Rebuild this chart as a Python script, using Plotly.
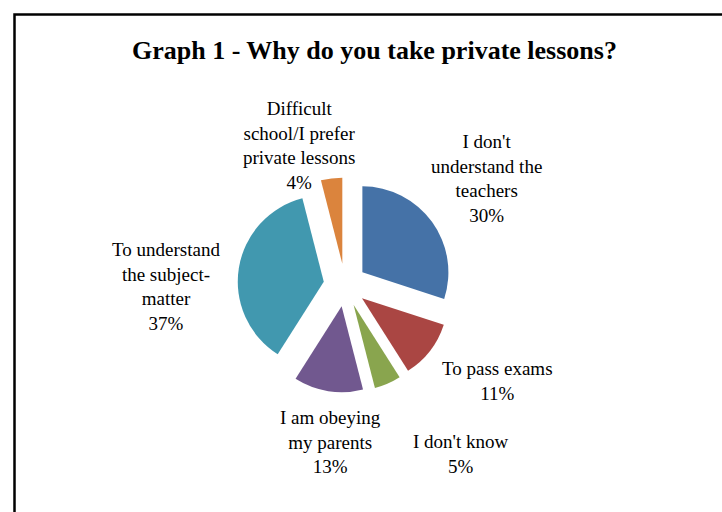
import plotly.graph_objects as go

# Survey answers (percent of respondents)
categories = [
    "I don't understand the teachers",
    "To pass exams",
    "I don't know",
    "I am obeying my parents",
    "To understand the subject-matter",
    "Difficult school/I prefer private lessons",
]
shares = [30, 11, 5, 13, 37, 4]

# Wrapped label text used for the outside labels
label_lines = [
    ["I don't", "understand the", "teachers"],
    ["To pass exams"],
    ["I don't know"],
    ["I am obeying", "my parents"],
    ["To understand", "the subject-", "matter"],
    ["Difficult", "school/I prefer", "private lessons"],
]

colors = ["#4572A7", "#AA4643", "#89A54E", "#71588F", "#4198AF", "#DB843D"]

W, H = 722, 512

# Label block centres in pixels (x, y)
label_pos = [
    (486, 178),
    (497, 381),
    (461, 454),
    (330, 442),
    (166, 286),
    (299, 145),
]

cx, cy, half = 345, 285, 107.5

fig = go.Figure(
    go.Pie(
        labels=categories,
        values=shares,
        sort=False,
        direction="clockwise",
        rotation=0,
        pull=[0.25] * len(shares),
        marker=dict(colors=colors, line=dict(width=0)),
        textinfo="none",
        hoverinfo="label+percent",
        showlegend=False,
        domain=dict(
            x=[(cx - half) / W, (cx + half) / W],
            y=[1 - (cy + half) / H, 1 - (cy - half) / H],
        ),
    )
)

font_serif = "Liberation Serif, Times New Roman, serif"
annotations = []
for lines, val, (px, py) in zip(label_lines, shares, label_pos):
    annotations.append(
        dict(
            x=px / W,
            y=1 - py / H,
            xref="paper",
            yref="paper",
            text="<br>".join(lines + [f"{val}%"]),
            showarrow=False,
            xanchor="center",
            yanchor="middle",
            align="center",
            font=dict(family=font_serif, size=19, color="#000000"),
        )
    )

annotations.append(
    dict(
        x=374 / W,
        y=1 - 50 / H,
        xref="paper",
        yref="paper",
        text="<b>Graph 1 - Why do you take private lessons?</b>",
        showarrow=False,
        xanchor="center",
        yanchor="middle",
        font=dict(family=font_serif, size=26, color="#000000"),
    )
)

fig.update_layout(
    width=W,
    height=H,
    margin=dict(l=0, r=0, t=0, b=0),
    paper_bgcolor="white",
    plot_bgcolor="white",
    annotations=annotations,
    shapes=[
        dict(
            type="rect",
            xref="paper",
            yref="paper",
            x0=14.5 / W,
            x1=760 / W,
            y0=1 - 560 / H,
            y1=1 - 14.5 / H,
            line=dict(color="#000000", width=2.5),
            fillcolor="rgba(0,0,0,0)",
        )
    ],
)

fig.write_html("out.html")
